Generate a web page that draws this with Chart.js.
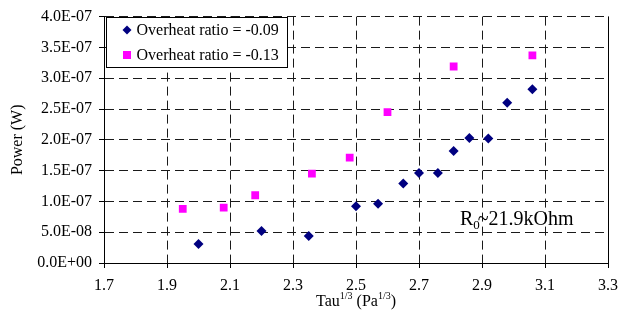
<!DOCTYPE html>
<html>
<head>
<meta charset="utf-8">
<script src="https://cdn.jsdelivr.net/npm/chart.js"></script>
<style>
  html, body { margin: 0; padding: 0; background: #fff; }
  #wrap { width: 626px; height: 321px; }
</style>
</head>
<body>
<div id="wrap"><canvas id="chart" width="626" height="321"></canvas></div>
<script>
// valores
const seriesNames = ['Overheat ratio = -0.09', 'Overheat ratio = -0.13'];
const tauA = [2.00, 2.20, 2.35, 2.50, 2.57, 2.65, 2.70, 2.76, 2.81, 2.86, 2.92, 2.98, 3.06];
const powerA = [3.1e-8, 5.2e-8, 4.4e-8, 9.2e-8, 9.6e-8, 1.29e-7, 1.46e-7, 1.46e-7, 1.82e-7, 2.03e-7, 2.02e-7, 2.60e-7, 2.82e-7];
const tauB = [1.95, 2.08, 2.18, 2.36, 2.48, 2.60, 2.81, 3.06];
const powerB = [8.8e-8, 9.0e-8, 1.10e-7, 1.45e-7, 1.71e-7, 2.45e-7, 3.19e-7, 3.37e-7];
const xTickLabels = ['1.7', '1.9', '2.1', '2.3', '2.5', '2.7', '2.9', '3.1', '3.3'];
const yTickLabels = ['0.0E+00', '5.0E-08', '1.0E-07', '1.5E-07', '2.0E-07', '2.5E-07', '3.0E-07', '3.5E-07', '4.0E-07'];

const FONT = "'Liberation Serif', 'Times New Roman', serif";

function toPoints(xs, ys) {
  return xs.map((x, i) => ({ x: x, y: ys[i] }));
}

// leyenda, titulos y notas dibujados a mano
const extras = {
  id: 'extras',
  afterDraw(chart) {
    const ctx = chart.ctx;
    const a = chart.chartArea;
    const xs = chart.scales.x;
    const ys = chart.scales.y;
    ctx.save();

    // borde derecho solido
    ctx.strokeStyle = '#000';
    ctx.lineWidth = 1;
    ctx.setLineDash([]);
    ctx.beginPath();
    ctx.moveTo(Math.round(a.right) + 0.5, a.top);
    ctx.lineTo(Math.round(a.right) + 0.5, a.bottom);
    ctx.stroke();

    // leyenda
    const bx = Math.round(a.left) + 2.5, by = Math.round(a.top) + 0.5;
    ctx.fillStyle = '#fff';
    ctx.fillRect(bx, by, 181, 50);
    ctx.strokeStyle = '#000';
    ctx.strokeRect(bx, by, 181, 50);
    ctx.font = '16px ' + FONT;
    ctx.textBaseline = 'middle';
    chart.data.datasets.forEach((ds, i) => {
      const cy = by + 12.5 + i * 25;
      const cx = bx + 20.5;
      ctx.fillStyle = ds.backgroundColor;
      ctx.beginPath();
      if (ds.pointStyle === 'rectRot') {
        ctx.moveTo(cx, cy - 4.5);
        ctx.lineTo(cx + 4.5, cy);
        ctx.lineTo(cx, cy + 4.5);
        ctx.lineTo(cx - 4.5, cy);
        ctx.closePath();
      } else {
        ctx.rect(cx - 4, cy - 4, 8, 8);
      }
      ctx.fill();
      ctx.fillStyle = '#000';
      ctx.textAlign = 'left';
      ctx.fillText(ds.label, bx + 30, cy + 1);
    });

    // titulo eje y
    ctx.save();
    ctx.translate(18, (a.top + a.bottom) / 2);
    ctx.rotate(-Math.PI / 2);
    ctx.textAlign = 'center';
    ctx.textBaseline = 'middle';
    ctx.fillStyle = '#000';
    ctx.font = '16px ' + FONT;
    ctx.fillText('Power (W)', 0, 0);
    ctx.restore();

    // titulo eje x con superindices
    const parts = [
      { t: 'Tau', sup: false },
      { t: '1/3', sup: true },
      { t: ' (Pa', sup: false },
      { t: '1/3', sup: true },
      { t: ')', sup: false },
    ];
    const fontFor = (p) => (p.sup ? '10px ' : '16px ') + FONT;
    let total = 0;
    parts.forEach((p) => { ctx.font = fontFor(p); total += ctx.measureText(p.t).width; });
    let tx = (a.left + a.right) / 2 - total / 2;
    const base = 306;
    ctx.textAlign = 'left';
    ctx.textBaseline = 'alphabetic';
    ctx.fillStyle = '#000';
    parts.forEach((p) => {
      ctx.font = fontFor(p);
      ctx.fillText(p.t, tx, p.sup ? base - 7 : base);
      tx += ctx.measureText(p.t).width;
    });

    // nota R0
    let rx = xs.getPixelForValue(2.83);
    const ry = ys.getPixelForValue(0.61e-7);
    ctx.font = '20px ' + FONT;
    ctx.fillText('R', rx, ry);
    rx += ctx.measureText('R').width;
    ctx.font = '13px ' + FONT;
    ctx.fillText('0', rx, ry + 4);
    rx += ctx.measureText('0').width - 2;
    ctx.font = '20px ' + FONT;
    ctx.fillText('~21.9kOhm', rx, ry);

    ctx.restore();
  }
};

const ctx = document.getElementById('chart').getContext('2d');
new Chart(ctx, {
  type: 'scatter',
  data: {
    datasets: [
      {
        label: seriesNames[0],
        data: toPoints(tauA, powerA),
        pointStyle: 'rectRot',
        pointRadius: 5,
        pointHoverRadius: 5,
        backgroundColor: '#000080',
        borderColor: '#000080',
        borderWidth: 0,
      },
      {
        label: seriesNames[1],
        data: toPoints(tauB, powerB),
        pointStyle: 'rect',
        pointRadius: 5.5,
        pointHoverRadius: 5.5,
        backgroundColor: '#ff00ff',
        borderColor: '#ff00ff',
        borderWidth: 0,
      },
    ],
  },
  options: {
    responsive: false,
    animation: false,
    events: [],
    layout: { padding: { top: 14, right: 12, left: 0, bottom: 0 } },
    plugins: {
      legend: { display: false },
      tooltip: { enabled: false },
    },
    scales: {
      x: {
        type: 'linear',
        min: 1.7,
        max: 3.3,
        afterFit: (scale) => { scale.height = 58; },
        afterBuildTicks: (scale) => {
          scale.ticks = xTickLabels.map((l) => ({ value: parseFloat(l) }));
        },
        ticks: {
          autoSkip: false,
          maxRotation: 0,
          padding: 8,
          color: '#000',
          font: { family: FONT, size: 16 },
          callback: (v, i) => xTickLabels[i],
        },
        grid: { color: '#1a1a1a', tickLength: 5, tickColor: '#000' },
        border: { color: '#000', width: 1, dash: [9, 5] },
      },
      y: {
        type: 'linear',
        min: 0,
        max: 4e-7,
        afterFit: (scale) => { scale.width = 104; },
        afterBuildTicks: (scale) => {
          scale.ticks = yTickLabels.map((l) => ({ value: parseFloat(l) }));
        },
        ticks: {
          autoSkip: false,
          padding: 7,
          color: '#000',
          font: { family: FONT, size: 16 },
          callback: (v, i) => yTickLabels[i],
        },
        grid: { color: '#1a1a1a', tickLength: 5, tickColor: '#000' },
        border: { color: '#000', width: 1, dash: [9, 5] },
      },
    },
  },
  plugins: [extras],
});
</script>
</body>
</html>
